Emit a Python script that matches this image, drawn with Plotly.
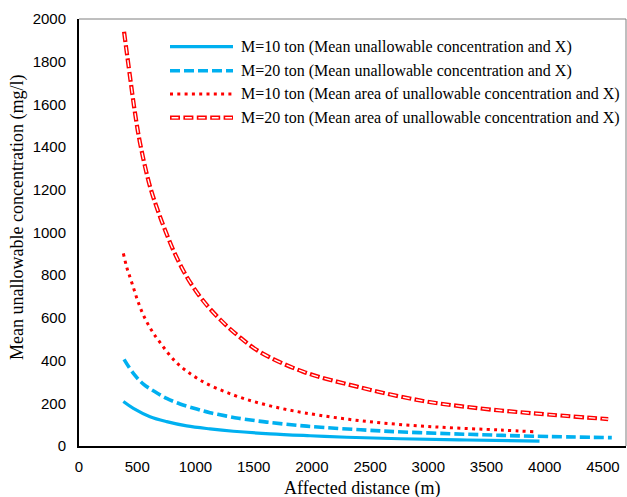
import plotly.graph_objects as go

# ---- data ----
x_m10_conc = [381, 467, 610, 753, 925, 1125, 1326, 1641, 1985, 2300, 2758, 3330, 3955]
y_m10_conc = [208, 176, 137, 114, 94, 80, 69, 57, 48, 41, 34, 28, 23]

x_m20_conc = [387, 467, 553, 653, 753, 868, 1011, 1125, 1269, 1369, 1612, 1956, 2614, 3330, 3903, 4576]
y_m20_conc = [406, 340, 290, 254, 223, 197, 173, 156, 140, 130, 112, 93, 70, 55, 46, 39]

x_m10_area = [381, 410, 430, 469, 507, 556, 613, 681, 839, 1040, 1326, 1612, 1940, 2471, 3044, 3617, 3903]
y_m10_area = [902, 837, 804, 739, 676, 610, 551, 496, 390, 309, 239, 192, 155, 115, 90, 75, 67]

x_m20_area = [387, 438, 481, 524, 610, 696, 739, 816, 925, 1057, 1211, 1369, 1555, 1925, 2388, 2955, 3445, 3900, 4545]
y_m20_area = [1940, 1730, 1560, 1420, 1215, 1074, 1012, 910, 793, 687, 593, 515, 440, 348, 278, 211, 176, 153, 126]

legend_names = [
    "M=10 ton (Mean unallowable concentration and X)",
    "M=20 ton (Mean unallowable concentration and X)",
    "M=10 ton (Mean area of unallowable concentration and X)",
    "M=20 ton (Mean area of unallowable concentration and X)",
]
x_ticks = [0, 500, 1000, 1500, 2000, 2500, 3000, 3500, 4000, 4500]
y_ticks = [0, 200, 400, 600, 800, 1000, 1200, 1400, 1600, 1800, 2000]

BLUE = "#00B0F0"
RED = "#FF0000"

# ---- layout geometry (pixels) ----
WIDTH, HEIGHT = 627, 497
L, R, T, B = 79, 1, 19, 51
PW = WIDTH - L - R
PH = HEIGHT - T - B


def px(xp):
    return (xp - L) / PW


def py(yp):
    return (T + PH - yp) / PH


fig = go.Figure()
fig.add_trace(go.Scatter(x=x_m10_conc, y=y_m10_conc, mode="lines", name=legend_names[0],
                         line=dict(color=BLUE, width=3.2, shape="spline"), showlegend=False))
fig.add_trace(go.Scatter(x=x_m20_conc, y=y_m20_conc, mode="lines", name=legend_names[1],
                         line=dict(color=BLUE, width=3.6, shape="spline", dash="10px,4px"), showlegend=False))
fig.add_trace(go.Scatter(x=x_m10_area, y=y_m10_area, mode="lines", name=legend_names[2],
                         line=dict(color=RED, width=3, shape="spline", dash="3px,4.3px"), showlegend=False))
fig.add_trace(go.Scatter(x=x_m20_area, y=y_m20_area, mode="lines", name=legend_names[3],
                         line=dict(color=RED, width=4.2, shape="spline", dash="10px,3.4px"), showlegend=False))
fig.add_trace(go.Scatter(x=x_m20_area, y=y_m20_area, mode="lines", hoverinfo="skip",
                         line=dict(color="white", width=1.4, shape="spline", dash="0px,1.6px,6.8px,5px"),
                         showlegend=False))

# ---- manual legend (to reproduce the long sample lines) ----
shapes = []
annotations = []
rows_y = [46.7, 70.7, 94.0, 117.7]
styles = [
    [dict(color=BLUE, width=3.2)],
    [dict(color=BLUE, width=3.6, dash="10px,4px")],
    [dict(color=RED, width=3, dash="3px,4.3px")],
    [dict(color=RED, width=4.2, dash="10px,3.4px"), dict(color="white", width=1.4, dash="0px,1.6px,6.8px,5px")],
]
for name, yy, sty in zip(legend_names, rows_y, styles):
    for s in sty:
        shapes.append(dict(type="line", xref="paper", yref="paper",
                           x0=px(170), x1=px(233), y0=py(yy), y1=py(yy), line=s))
    annotations.append(dict(xref="paper", yref="paper", x=px(239), y=py(yy), text=name,
                            showarrow=False, xanchor="left", yanchor="middle",
                            font=dict(family="Liberation Serif", size=16, color="black")))

# plot-area border (top / right, thin gray)
shapes.append(dict(type="line", xref="paper", yref="paper", x0=0, x1=1, y0=1, y1=1,
                   line=dict(color="#7f7f7f", width=1)))
shapes.append(dict(type="line", xref="paper", yref="paper", x0=1, x1=1, y0=0, y1=1,
                   line=dict(color="#7f7f7f", width=1)))

# axis titles
annotations.append(dict(xref="paper", yref="paper", x=px(362), y=py(488), text="Affected distance (m)",
                        showarrow=False, xanchor="center", yanchor="middle",
                        font=dict(family="Liberation Serif", size=18, color="black")))
annotations.append(dict(xref="paper", yref="paper", x=px(18), y=py(218),
                        text="Mean unallowable concentration (mg/l)", textangle=-90,
                        showarrow=False, xanchor="center", yanchor="middle",
                        font=dict(family="Liberation Serif", size=18, color="black")))

fig.update_layout(
    width=WIDTH, height=HEIGHT,
    margin=dict(l=L, r=R, t=T, b=B, pad=0),
    paper_bgcolor="white", plot_bgcolor="white",
    shapes=shapes, annotations=annotations,
    showlegend=False,
)
fig.update_xaxes(range=[0, 4698], tickvals=x_ticks, ticktext=[str(v) for v in x_ticks],
                 showgrid=False, zeroline=False, showline=True, linecolor="black", linewidth=2,
                 ticks="", ticklabelstandoff=6,
                 tickfont=dict(family="Liberation Sans", size=15, color="black"))
fig.update_yaxes(range=[0, 2000], tickvals=y_ticks, ticktext=[str(v) for v in y_ticks],
                 showgrid=False, zeroline=False, showline=True, linecolor="black", linewidth=2,
                 ticks="", ticklabelstandoff=8,
                 tickfont=dict(family="Liberation Sans", size=15, color="black"))

fig.write_html("out.html")
